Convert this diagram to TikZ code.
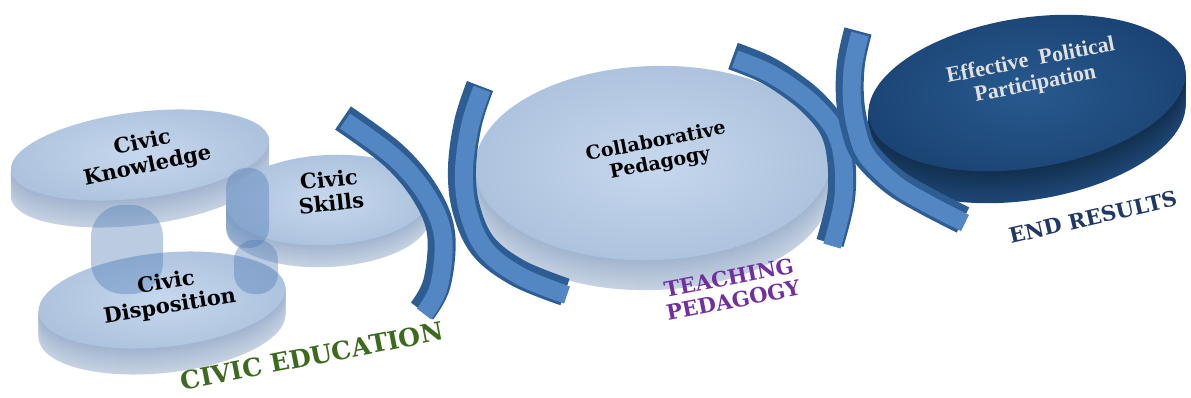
\documentclass[tikz,border=0pt]{standalone}
\usepackage{fontspec}
\setmainfont{DejaVu Serif}
\newfontfamily\lblfont{DejaVu Serif}
\newfontfamily\effont{Liberation Serif}
\definecolor{topA}{HTML}{C6D8EE}
\definecolor{topB}{HTML}{ADC2DD}
\definecolor{sideA}{HTML}{A2B5CF}
\definecolor{sideB}{HTML}{C6D2E2}
\definecolor{darktopA}{HTML}{28598E}
\definecolor{darktopB}{HTML}{1B4474}
\definecolor{darksideA}{HTML}{12304F}
\definecolor{darksideB}{HTML}{1E4777}
\definecolor{arcdark}{HTML}{2E5D93}
\definecolor{arcmid}{HTML}{5287C4}
\definecolor{capsulec}{HTML}{4A78B4}
\definecolor{edugreen}{HTML}{3C6A1E}
\definecolor{teachpurple}{HTML}{7030A0}
\definecolor{endnavy}{HTML}{1F3864}
% disc side: cx, cy, rx, ry, thickness, rotation, side colour A, side colour B
\newcommand\mydisc[8]{%
  \foreach \i in {#5,...,1}{%
    \pgfmathtruncatemacro\pct{100*\i/#5}%
    \fill[#8!\pct!#7, rotate around={#6:(#1,#2+\i)}] (#1,#2+\i) ellipse [x radius=#3pt, y radius=#4pt];
  }%
}
% disc top: cx, cy, rx, ry, rotation, inner, outer
\newcommand\mytop[7]{%
  \shade[inner color=#6, outer color=#7, rotate around={#5:(#1,#2)}] (#1,#2) ellipse [x radius=#3pt, y radius=#4pt];
}
\tikzset{
  arcband/.style={line width=28pt, arcdark},
  arcface/.style={line width=18pt, arcmid},
  capsule/.style={fill=capsulec, fill opacity=0.38, rounded corners=20pt},
  disclabel/.style={font=\lblfont\bfseries\fontsize{21}{24}\selectfont, align=center, text=black},
}
\newcommand\band[1]{%
  \draw[arcband] plot[smooth, tension=0.6] coordinates {#1};
  \draw[arcface, shift={(2,3)}] plot[smooth, tension=0.6] coordinates {#1};
}
\begin{document}
\begin{tikzpicture}[x=1pt,y=-1pt]
\useasboundingbox (0,0) rectangle (1191,398);
\fill[white] (0,0) rectangle (1191,398);
% Civic Knowledge
\mydisc{140}{155}{130}{43}{27}{7}{sideA}{sideB}
\mytop{140}{155}{130}{43}{7}{topA}{topB}
% Civic Skills
\mydisc{328}{200}{102}{45}{22}{3}{sideA}{sideB}
\mytop{328}{200}{102}{45}{3}{topA}{topB}
% Civic Disposition
\mydisc{162}{300}{124}{47}{26}{6}{sideA}{sideB}
\mytop{162}{300}{124}{47}{6}{topA}{topB}
% translucent links
\fill[capsule, rounded corners=32pt] (91,205) rectangle (163,294);
\fill[capsule] (226,168) rectangle (269,248);
\fill[capsule] (234,240) rectangle (278,294);
% Collaborative Pedagogy
\mydisc{653}{163}{178}{97}{30}{2}{sideA}{sideB}
\mytop{653}{163}{178}{97}{2}{topA}{topB}
% Effective Political Participation
\mydisc{1027}{93}{160}{75}{32}{9}{darksideA}{darksideB}
\mytop{1027}{93}{160}{75}{9}{darktopA}{darktopB}
% arcs
\band{(343,118) (393,155) (425,193) (441,233) (437,283) (422,311)}
\band{(480,86) (468,123) (462,168) (466,208) (483,246) (518,273) (565,292)}
\band{(733,56) (763,68) (788,83) (813,103) (833,128) (841,158) (841,198) (830,243)}
\band{(858,31) (851,63) (850,98) (855,128) (865,153) (893,181) (926,201) (963,220)}
% labels
\node[disclabel, rotate=12] (know) at (145,155) {Civic\\Knowledge};
\node[disclabel, rotate=6] (skill) at (330,191) {Civic\\Skills};
\node[disclabel, rotate=9] (disp) at (168,295) {Civic\\Disposition};
\node[disclabel, rotate=11, font=\lblfont\bfseries\fontsize{19}{22}\selectfont] (collab) at (658,153) {Collaborative\\Pedagogy};
\node[align=center, rotate=11, text=black!12, font=\effont\bfseries\fontsize{22}{24}\selectfont] (eff) at (1033,73) {Effective~~Political\\Participation};
\node[rotate=11, text=edugreen, font=\lblfont\bfseries\fontsize{25}{27}\selectfont] (edu) at (312,356) {CIVIC EDUCATION};
\node[rotate=11, align=center, text=teachpurple, font=\lblfont\bfseries\fontsize{21}{23}\selectfont] (teach) at (731,289) {TEACHING\\PEDAGOGY};
\node[rotate=13, text=endnavy, font=\lblfont\bfseries\fontsize{21}{23}\selectfont] (endr) at (1093,217) {END RESULTS};
\end{tikzpicture}
\end{document}
